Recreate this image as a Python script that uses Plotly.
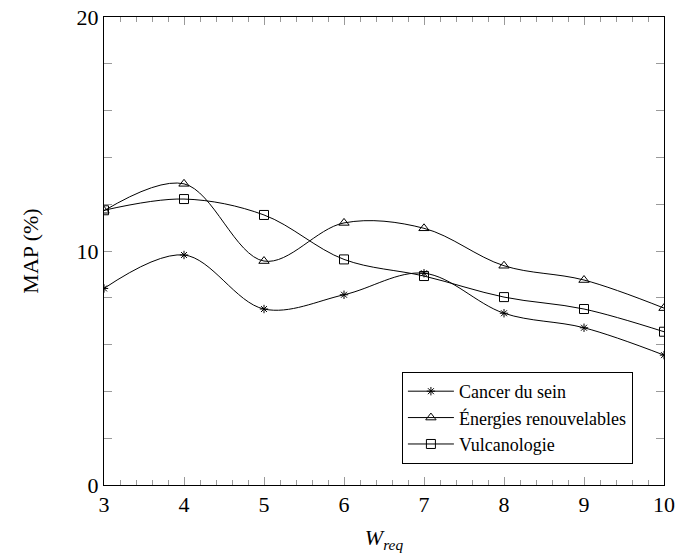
import plotly.graph_objects as go

# Window sizes W_req
w_req = [3, 4, 5, 6, 7, 8, 9, 10]

# MAP (%) per corpus
cancer_du_sein = [8.40, 9.83, 7.52, 8.13, 9.05, 7.34, 6.72, 5.55]
energies_renouvelables = [11.72, 12.87, 9.57, 11.20, 10.97, 9.37, 8.76, 7.56]
vulcanologie = [11.74, 12.22, 11.54, 9.64, 8.93, 8.03, 7.52, 6.55]

series = [
    ("Cancer du sein", cancer_du_sein, "asterisk-open", 7),
    ("Énergies renouvelables", energies_renouvelables, "triangle-up-open", 9),
    ("Vulcanologie", vulcanologie, "square-open", 9),
]

SERIF = "Liberation Serif, Times New Roman, serif"
TICK_GRAY = "#9a9a9a"

fig = go.Figure()
for name, values, symbol, size in series:
    fig.add_trace(go.Scatter(
        x=w_req, y=values, name=name,
        mode="lines+markers",
        line=dict(color="black", width=1, shape="spline", smoothing=1.0),
        marker=dict(symbol=symbol, size=size, color="black",
                    line=dict(color="black", width=1)),
    ))

fig.update_layout(
    width=676, height=553,
    margin=dict(l=104, r=12, t=17, b=68),
    plot_bgcolor="white", paper_bgcolor="white",
    font=dict(family=SERIF, color="black", size=22),
    legend=dict(
        x=0.532, y=0.2415, xanchor="left", yanchor="top",
        bgcolor="white", bordercolor="black", borderwidth=1,
        itemwidth=46,
        font=dict(family=SERIF, size=18, color="black"),
    ),
)

fig.update_xaxes(
    range=[3, 10], dtick=1, tick0=3, automargin=False,
    showline=True, linecolor="black", linewidth=1, mirror="ticks",
    ticks="inside", ticklen=8, tickcolor=TICK_GRAY, tickwidth=1,
    minor=dict(dtick=0.2, ticks="inside", ticklen=5, tickcolor=TICK_GRAY, tickwidth=1),
    showgrid=False, zeroline=False,
    tickfont=dict(size=22),
    title=dict(text="<i>W</i><sub><i>req</i></sub>", font=dict(size=22), standoff=16),
)
fig.update_yaxes(
    range=[0, 20], dtick=10, tick0=0, automargin=False,
    showline=True, linecolor="black", linewidth=1, mirror="ticks",
    ticks="inside", ticklen=8, tickcolor=TICK_GRAY, tickwidth=1,
    minor=dict(dtick=2, ticks="inside", ticklen=8, tickcolor=TICK_GRAY, tickwidth=1),
    showgrid=False, zeroline=False,
    tickfont=dict(size=22),
    title=dict(text="MAP (%)", font=dict(size=22), standoff=31),
)

fig.write_html("out.html")
